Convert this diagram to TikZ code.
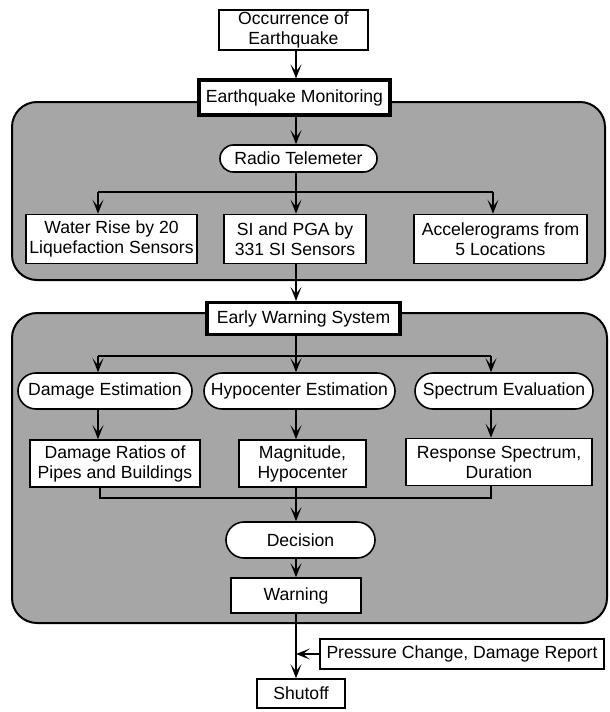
\documentclass[tikz,border=0pt]{standalone}
\usepackage{fontspec}
\setmainfont{Liberation Sans}
\usetikzlibrary{arrows.meta}
\begin{document}
\begin{tikzpicture}[x=0.5pt,y=-0.5pt,
  every node/.style={font=\fontsize{8.8}{10}\selectfont, inner sep=0pt, align=center},
  box/.style={draw, line width=0.8pt, fill=white},
  thickbox/.style={draw, line width=1.6pt, fill=white},
  pill/.style={draw, line width=0.8pt, fill=white, rounded corners=9pt},
  panel/.style={draw, line width=1pt, fill=black!35, rounded corners=12.5pt},
  sz/.style 2 args={minimum width=#1*0.5pt, minimum height=#2*0.5pt},
  arr/.style={line width=0.8pt, -{Stealth[length=7pt,width=5.5pt,inset=3.5pt]}},
  ln/.style={line width=0.8pt}]
\useasboundingbox (0,0) rectangle (610,712);
\fill[white] (0,0) rectangle (610,712);
% panels
\draw[panel] (12,102) rectangle (605,280);
\draw[panel] (12,313) rectangle (607,623);
% spine and bus coordinates
\coordinate (sp) at (296,0);
\coordinate (cL) at (98,192);
\coordinate (cR) at (493,192);
\coordinate (dL) at (98,356);
\coordinate (dR) at (491,356);
\coordinate (eL) at (100,498);
\coordinate (eR) at (491,498);
% nodes
\node[box, sz={149}{40}] (occ) at (293.5,30) {Occurrence of\\Earthquake};
\node[thickbox, sz={191}{35}] (mon) at (294.5,97.5) {Earthquake Monitoring};
\node[pill, sz={157}{27}, rounded corners=6.7pt] (radio) at (298.5,158.5) {Radio Telemeter};
\node[box, sz={171}{49}] (water) at (111.5,239) {Water Rise by 20\\Liquefaction Sensors};
\node[box, sz={142}{49}] (si) at (295,239) {SI and PGA by\\331 SI Sensors};
\node[box, sz={173}{49}] (acc) at (500.5,239) {Accelerograms from\\5 Locations};
\node[thickbox, sz={193}{32}] (ews) at (303.5,318.5) {Early Warning System};
\node[pill, sz={174}{36}] (dmgE) at (105,391) {Damage Estimation};
\node[pill, sz={191}{36}] (hypE) at (299.5,391) {Hypocenter Estimation};
\node[pill, sz={178}{36}] (specE) at (504,391) {Spectrum Evaluation};
\node[box, sz={170}{47}] (dmgR) at (115,463.5) {Damage Ratios of\\Pipes and Buildings};
\node[box, sz={127}{47}] (mag) at (302.5,463.5) {Magnitude,\\Hypocenter};
\node[box, sz={186}{47}] (resp) at (499,462) {Response Spectrum,\\Duration};
\node[pill, sz={149}{36}] (dec) at (300.5,540) {Decision};
\node[box, sz={130}{35}] (warn) at (296,595.5) {Warning};
\node[box, sz={284}{30}] (press) at (462,654) {Pressure Change, Damage Report};
\node[box, sz={88}{29}] (shut) at (301,693.5) {Shutoff};
% connectors
\draw[arr] (occ.south -| sp) -- (mon.north -| sp);
\draw[arr] (mon.south -| sp) -- (radio.north -| sp);
\draw[ln] (radio.south -| sp) -- (sp |- cL);
\draw[ln] (cL) -- (cR);
\draw[arr] (cL) -- (water.north -| cL);
\draw[arr] (sp |- cL) -- (si.north -| sp);
\draw[arr] (cR) -- (acc.north -| cR);
\draw[arr] (si.south -| sp) -- (ews.north -| sp);
\draw[ln] (ews.south -| sp) -- (sp |- dL);
\draw[ln] (dL) -- (dR);
\draw[arr] (dL) -- (dmgE.north -| dL);
\draw[arr] (sp |- dL) -- (hypE.north -| sp);
\draw[arr] (dR) -- (specE.north -| dR);
\draw[arr] (dmgE.south -| dL) -- (dmgR.north -| dL);
\draw[arr] (hypE.south -| sp) -- (mag.north -| sp);
\draw[arr] (specE.south -| dR) -- (resp.north -| dR);
\draw[ln] (dmgR.south -| eL) -- (eL) -- (eR) -- (resp.south -| eR);
\draw[arr] (mag.south -| sp) -- (dec.north -| sp);
\draw[arr] (dec.south -| sp) -- (warn.north -| sp);
\draw[arr] (warn.south -| sp) -- (shut.north -| sp);
\draw[arr] (press.west) -- (press.west -| sp);
\end{tikzpicture}
\end{document}
